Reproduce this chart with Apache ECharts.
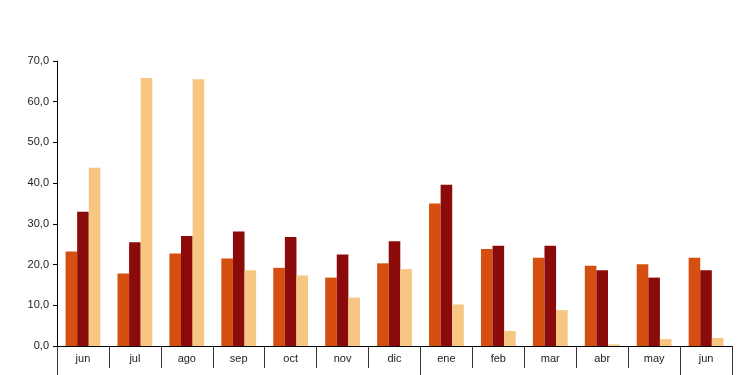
<!DOCTYPE html>
<html>
<head>
<meta charset="utf-8">
<script src="https://cdn.jsdelivr.net/npm/echarts@6/dist/echarts.min.js"></script>
<style>html,body{margin:0;padding:0;background:#fff}#c{width:750px;height:375px}</style>
</head>
<body>
<div id="c"></div>
<script>
var categories = ['jun','jul','ago','sep','oct','nov','dic','ene','feb','mar','abr','may','jun'];
var serieA = [23.2, 17.8, 22.7, 21.5, 19.2, 16.8, 20.3, 35.0, 23.8, 21.7, 19.7, 20.1, 21.7];
var serieB = [33.0, 25.5, 27.0, 28.1, 26.8, 22.5, 25.7, 39.6, 24.6, 24.6, 18.6, 16.8, 18.6];
var serieC = [43.8, 65.8, 65.5, 18.6, 17.3, 11.9, 18.9, 10.2, 3.7, 8.8, 0.4, 1.7, 2.0];
var yTicks = { min: 0, max: 70, interval: 10 };

var chart = echarts.init(document.getElementById('c'));
var font = 'Liberation Sans, Arial, sans-serif';
chart.setOption({
  animation: false,
  grid: { left: 57, right: 18, top: 61, bottom: 29, containLabel: false },
  xAxis: [{
    type: 'category',
    data: categories,
    position: 'bottom',
    axisLine: { lineStyle: { color: '#000', width: 1 } },
    axisTick: { show: true, interval: 0, length: 22, lineStyle: { color: '#333' } },
    axisLabel: { interval: 0, color: '#222', fontSize: 11, fontFamily: font, margin: 7 }
  }, {
    type: 'category',
    data: categories,
    position: 'bottom',
    axisLine: { show: false },
    axisTick: { show: true, interval: function (i) { return i === 0 || i === 7 || i >= 12; }, length: 32, lineStyle: { color: '#333' } },
    axisLabel: { show: false }
  }],
  yAxis: {
    type: 'value',
    min: yTicks.min, max: yTicks.max, interval: yTicks.interval,
    axisLine: { show: true, lineStyle: { color: '#000' } },
    axisTick: { show: true, length: 4, lineStyle: { color: '#000' } },
    splitLine: { show: false },
    axisLabel: { color: '#222', fontSize: 11, fontFamily: font, margin: 8,
      formatter: function (v) { return v.toFixed(1).replace('.', ','); } }
  },
  series: [
    { name: 'A', type: 'bar', data: serieA, itemStyle: { color: '#D55010' }, barGap: '0%', barCategoryGap: '33%' },
    { name: 'B', type: 'bar', data: serieB, itemStyle: { color: '#8B0B0B' }, barGap: '0%', barCategoryGap: '33%' },
    { name: 'C', type: 'bar', data: serieC, itemStyle: { color: '#F8C683' }, barGap: '0%', barCategoryGap: '33%' }
  ]
});
</script>
</body>
</html>
